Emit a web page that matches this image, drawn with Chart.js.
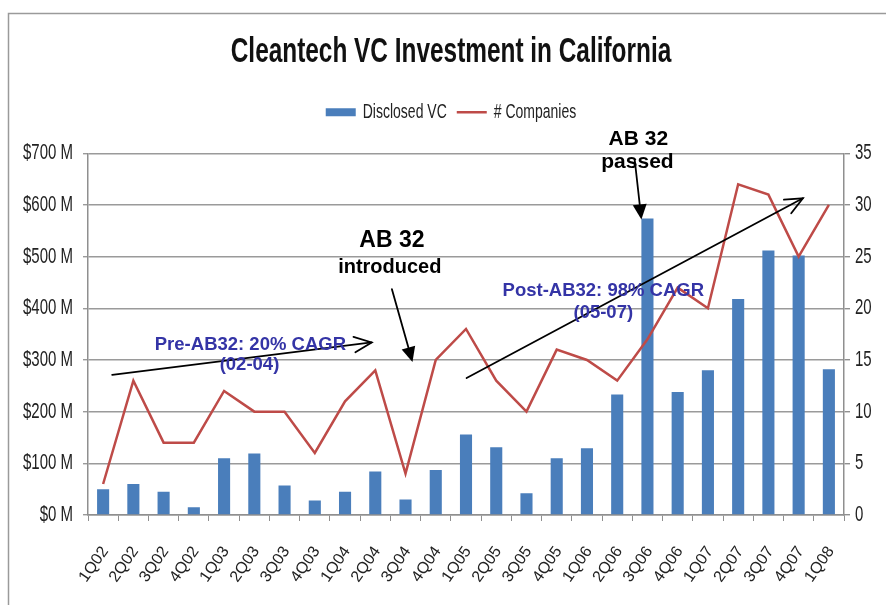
<!DOCTYPE html>
<html>
<head>
<meta charset="utf-8">
<script src="https://cdn.jsdelivr.net/npm/chart.js@4/dist/chart.umd.min.js"></script>
<style>
  html, body { margin: 0; padding: 0; background: #ffffff; }
  #wrap { width: 886px; height: 605px; position: relative; }
</style>
</head>
<body>
<div id="wrap"><canvas id="c" width="886" height="605"></canvas></div>
<script>
// ---- data ----
const quarters = ['1Q02','2Q02','3Q02','4Q02','1Q03','2Q03','3Q03','4Q03','1Q04','2Q04','3Q04','4Q04',
                  '1Q05','2Q05','3Q05','4Q05','1Q06','2Q06','3Q06','4Q06','1Q07','2Q07','3Q07','4Q07','1Q08'];
const disclosedVC = [50, 60, 45, 15, 110, 119, 57, 28, 45, 84, 30, 87,
                     156, 131, 42, 110, 129, 233, 574, 238, 280, 418, 512, 502, 282]; // $M
const companies = [3, 13, 7, 7, 12, 10, 10, 6, 11, 14, 4, 15,
                   18, 13, 10, 16, 15, 13, 17, 22, 20, 32, 31, 25, 30];
const vcAxisRange = [0, 700];
const vcAxisStep = 100;
const companyAxisRange = [0, 35];
const companyAxisStep = 5;

// annotation texts and anchors (x = category index, y = value on the $M axis)
const noteTexts = [
  { text: 'AB 32',      x: 9.55,  y: 518, size: 23, color: '#000000' },
  { text: 'introduced', x: 9.48,  y: 468, size: 20, color: '#000000' },
  { text: 'AB 32',      x: 17.70, y: 716, size: 21, color: '#000000' },
  { text: 'passed',     x: 17.67, y: 672, size: 21, color: '#000000' },
  { text: 'Pre-AB32: 20% CAGR',  x: 4.87,  y: 319, size: 18.5, color: '#3434a6' },
  { text: '(02-04)',             x: 4.84,  y: 280, size: 18.5, color: '#3434a6' },
  { text: 'Post-AB32: 98% CAGR', x: 16.54, y: 424, size: 18.5, color: '#3434a6' },
  { text: '(05-07)',             x: 16.54, y: 381, size: 18.5, color: '#3434a6' }
];
const noteArrows = [
  { from: [9.55, 437],  to: [10.23, 296], head: 'filled' },
  { from: [17.58, 687], to: [17.80, 572], head: 'filled' },
  { from: [0.30, 271],  to: [8.88, 334],  head: 'open' },
  { from: [12.02, 265], to: [23.14, 613], head: 'open' }
];

const SANS = '"Liberation Sans", Arial, sans-serif';
const TEXT_STRETCH = 1.45; // the reference chart text is drawn tall and narrow

const frame = {
  id: 'frame',
  beforeDraw(chart) {
    const ctx = chart.ctx;
    ctx.save();
    ctx.strokeStyle = '#9a9a9a';
    ctx.lineWidth = 1.5;
    ctx.beginPath();
    ctx.moveTo(8.5, chart.height);
    ctx.lineTo(8.5, 13.5);
    ctx.lineTo(chart.width, 13.5);
    ctx.stroke();
    ctx.restore();
  }
};

// horizontal chart labels (title, legend, y ticks) are stretched vertically
const stretchText = {
  id: 'stretchText',
  beforeDraw(chart) {
    const ctx = chart.ctx;
    if (ctx._origFillText) return;
    const orig = ctx.fillText;
    ctx._origFillText = orig;
    ctx.fillText = function (text, x, y, maxWidth) {
      const m = this.getTransform();
      if (this.textBaseline === 'middle' && m.b === 0 && m.c === 0) {
        this.save();
        this.translate(x, y);
        this.scale(1, TEXT_STRETCH);
        if (maxWidth !== undefined) orig.call(this, text, 0, 0, maxWidth);
        else orig.call(this, text, 0, 0);
        this.restore();
      } else if (maxWidth !== undefined) {
        orig.call(this, text, x, y, maxWidth);
      } else {
        orig.call(this, text, x, y);
      }
    };
  }
};

const legendGap = {
  id: 'legendGap',
  beforeLayout(chart) {
    const lg = chart.legend;
    if (lg && !lg._gapPatched) {
      const fit = lg.fit;
      lg.fit = function () { fit.apply(this, arguments); this.height += 24; };
      lg._gapPatched = true;
    }
  }
};

function drawArrow(ctx, x1, y1, x2, y2, head) {
  const ang = Math.atan2(y2 - y1, x2 - x1);
  ctx.strokeStyle = '#000';
  ctx.fillStyle = '#000';
  ctx.lineWidth = 1.8;
  ctx.lineCap = 'round';
  if (head === 'filled') {
    const L = 15, W = 7;
    const bx = x2 - L * Math.cos(ang), by = y2 - L * Math.sin(ang);
    ctx.beginPath(); ctx.moveTo(x1, y1); ctx.lineTo(bx, by); ctx.stroke();
    ctx.beginPath();
    ctx.moveTo(x2, y2);
    ctx.lineTo(bx + W * Math.sin(ang), by - W * Math.cos(ang));
    ctx.lineTo(bx - W * Math.sin(ang), by + W * Math.cos(ang));
    ctx.closePath(); ctx.fill();
  } else {
    const L = 19, a = 0.42;
    ctx.beginPath(); ctx.moveTo(x1, y1); ctx.lineTo(x2, y2); ctx.stroke();
    ctx.beginPath();
    ctx.moveTo(x2 - L * Math.cos(ang - a), y2 - L * Math.sin(ang - a));
    ctx.lineTo(x2, y2);
    ctx.lineTo(x2 - L * Math.cos(ang + a), y2 - L * Math.sin(ang + a));
    ctx.stroke();
  }
}

const notes = {
  id: 'notes',
  afterDraw(chart) {
    const ctx = chart.ctx, xs = chart.scales.x, ys = chart.scales.y;
    ctx.save();
    noteArrows.forEach(a => {
      drawArrow(ctx, xs.getPixelForValue(a.from[0]), ys.getPixelForValue(a.from[1]),
                     xs.getPixelForValue(a.to[0]), ys.getPixelForValue(a.to[1]), a.head);
    });
    ctx.textAlign = 'center';
    ctx.textBaseline = 'alphabetic';
    noteTexts.forEach(t => {
      ctx.font = 'bold ' + t.size + 'px ' + SANS;
      ctx.fillStyle = t.color;
      ctx.fillText(t.text, xs.getPixelForValue(t.x), ys.getPixelForValue(t.y));
    });
    ctx.restore();
  }
};

new Chart(document.getElementById('c'), {
  data: {
    labels: quarters,
    datasets: [
      {
        type: 'bar', label: 'Disclosed VC', data: disclosedVC, yAxisID: 'y',
        backgroundColor: '#4A7EBB', borderWidth: 0, pointStyle: 'rect',
        barPercentage: 0.4, categoryPercentage: 1.0, order: 1
      },
      {
        type: 'line', label: '# Companies', data: companies, yAxisID: 'y1',
        borderColor: '#BE4B48', backgroundColor: '#BE4B48', borderWidth: 2.5,
        pointRadius: 0, pointStyle: 'line', tension: 0, order: 0
      }
    ]
  },
  options: {
    responsive: false,
    animation: false,
    devicePixelRatio: 1,
    layout: { padding: { left: 16, right: 0, top: 0, bottom: 0 } },
    plugins: {
      title: {
        display: true, text: 'Cleantech VC Investment in California', color: '#111',
        font: { family: SANS, size: 24.4, weight: 'bold', lineHeight: 1.2 },
        padding: { top: 37.4, bottom: 28.6 }
      },
      legend: {
        display: true, position: 'top',
        labels: {
          usePointStyle: true, pointStyleWidth: 30, boxHeight: 8,
          font: { family: SANS, size: 14 }, color: '#222', padding: 10,
          sort: (a, b) => a.datasetIndex - b.datasetIndex
        }
      },
      tooltip: { enabled: false }
    },
    scales: {
      x: {
        offset: true,
        grid: { display: true, drawOnChartArea: false, drawTicks: true, tickLength: 6, color: '#8f8f8f', offset: true },
        border: { display: true, color: '#8f8f8f', width: 1.5 },
        ticks: { autoSkip: false, minRotation: 55, maxRotation: 55, padding: 22, labelOffset: 2, color: '#222',
                 font: { family: SANS, size: 16 } },
        afterFit(s) { s.height = 90; }
      },
      y: {
        position: 'left', min: vcAxisRange[0], max: vcAxisRange[1],
        ticks: { stepSize: vcAxisStep, callback: v => '$' + v + ' M', padding: 10, color: '#222',
                 font: { family: SANS, size: 15 } },
        grid: { color: '#9a9a9a', tickLength: 5, lineWidth: 1.4 },
        border: { color: '#8f8f8f', width: 1.5 },
        afterFit(s) { s.width = 72; }
      },
      y1: {
        position: 'right', min: companyAxisRange[0], max: companyAxisRange[1],
        ticks: { stepSize: companyAxisStep, padding: 5, color: '#222',
                 font: { family: SANS, size: 15 } },
        grid: { drawOnChartArea: false, tickLength: 6, color: '#8f8f8f', lineWidth: 1.4 },
        border: { color: '#8f8f8f', width: 1.5 },
        afterFit(s) { s.width = 42; }
      }
    }
  },
  plugins: [frame, stretchText, legendGap, notes]
});
</script>
</body>
</html>
